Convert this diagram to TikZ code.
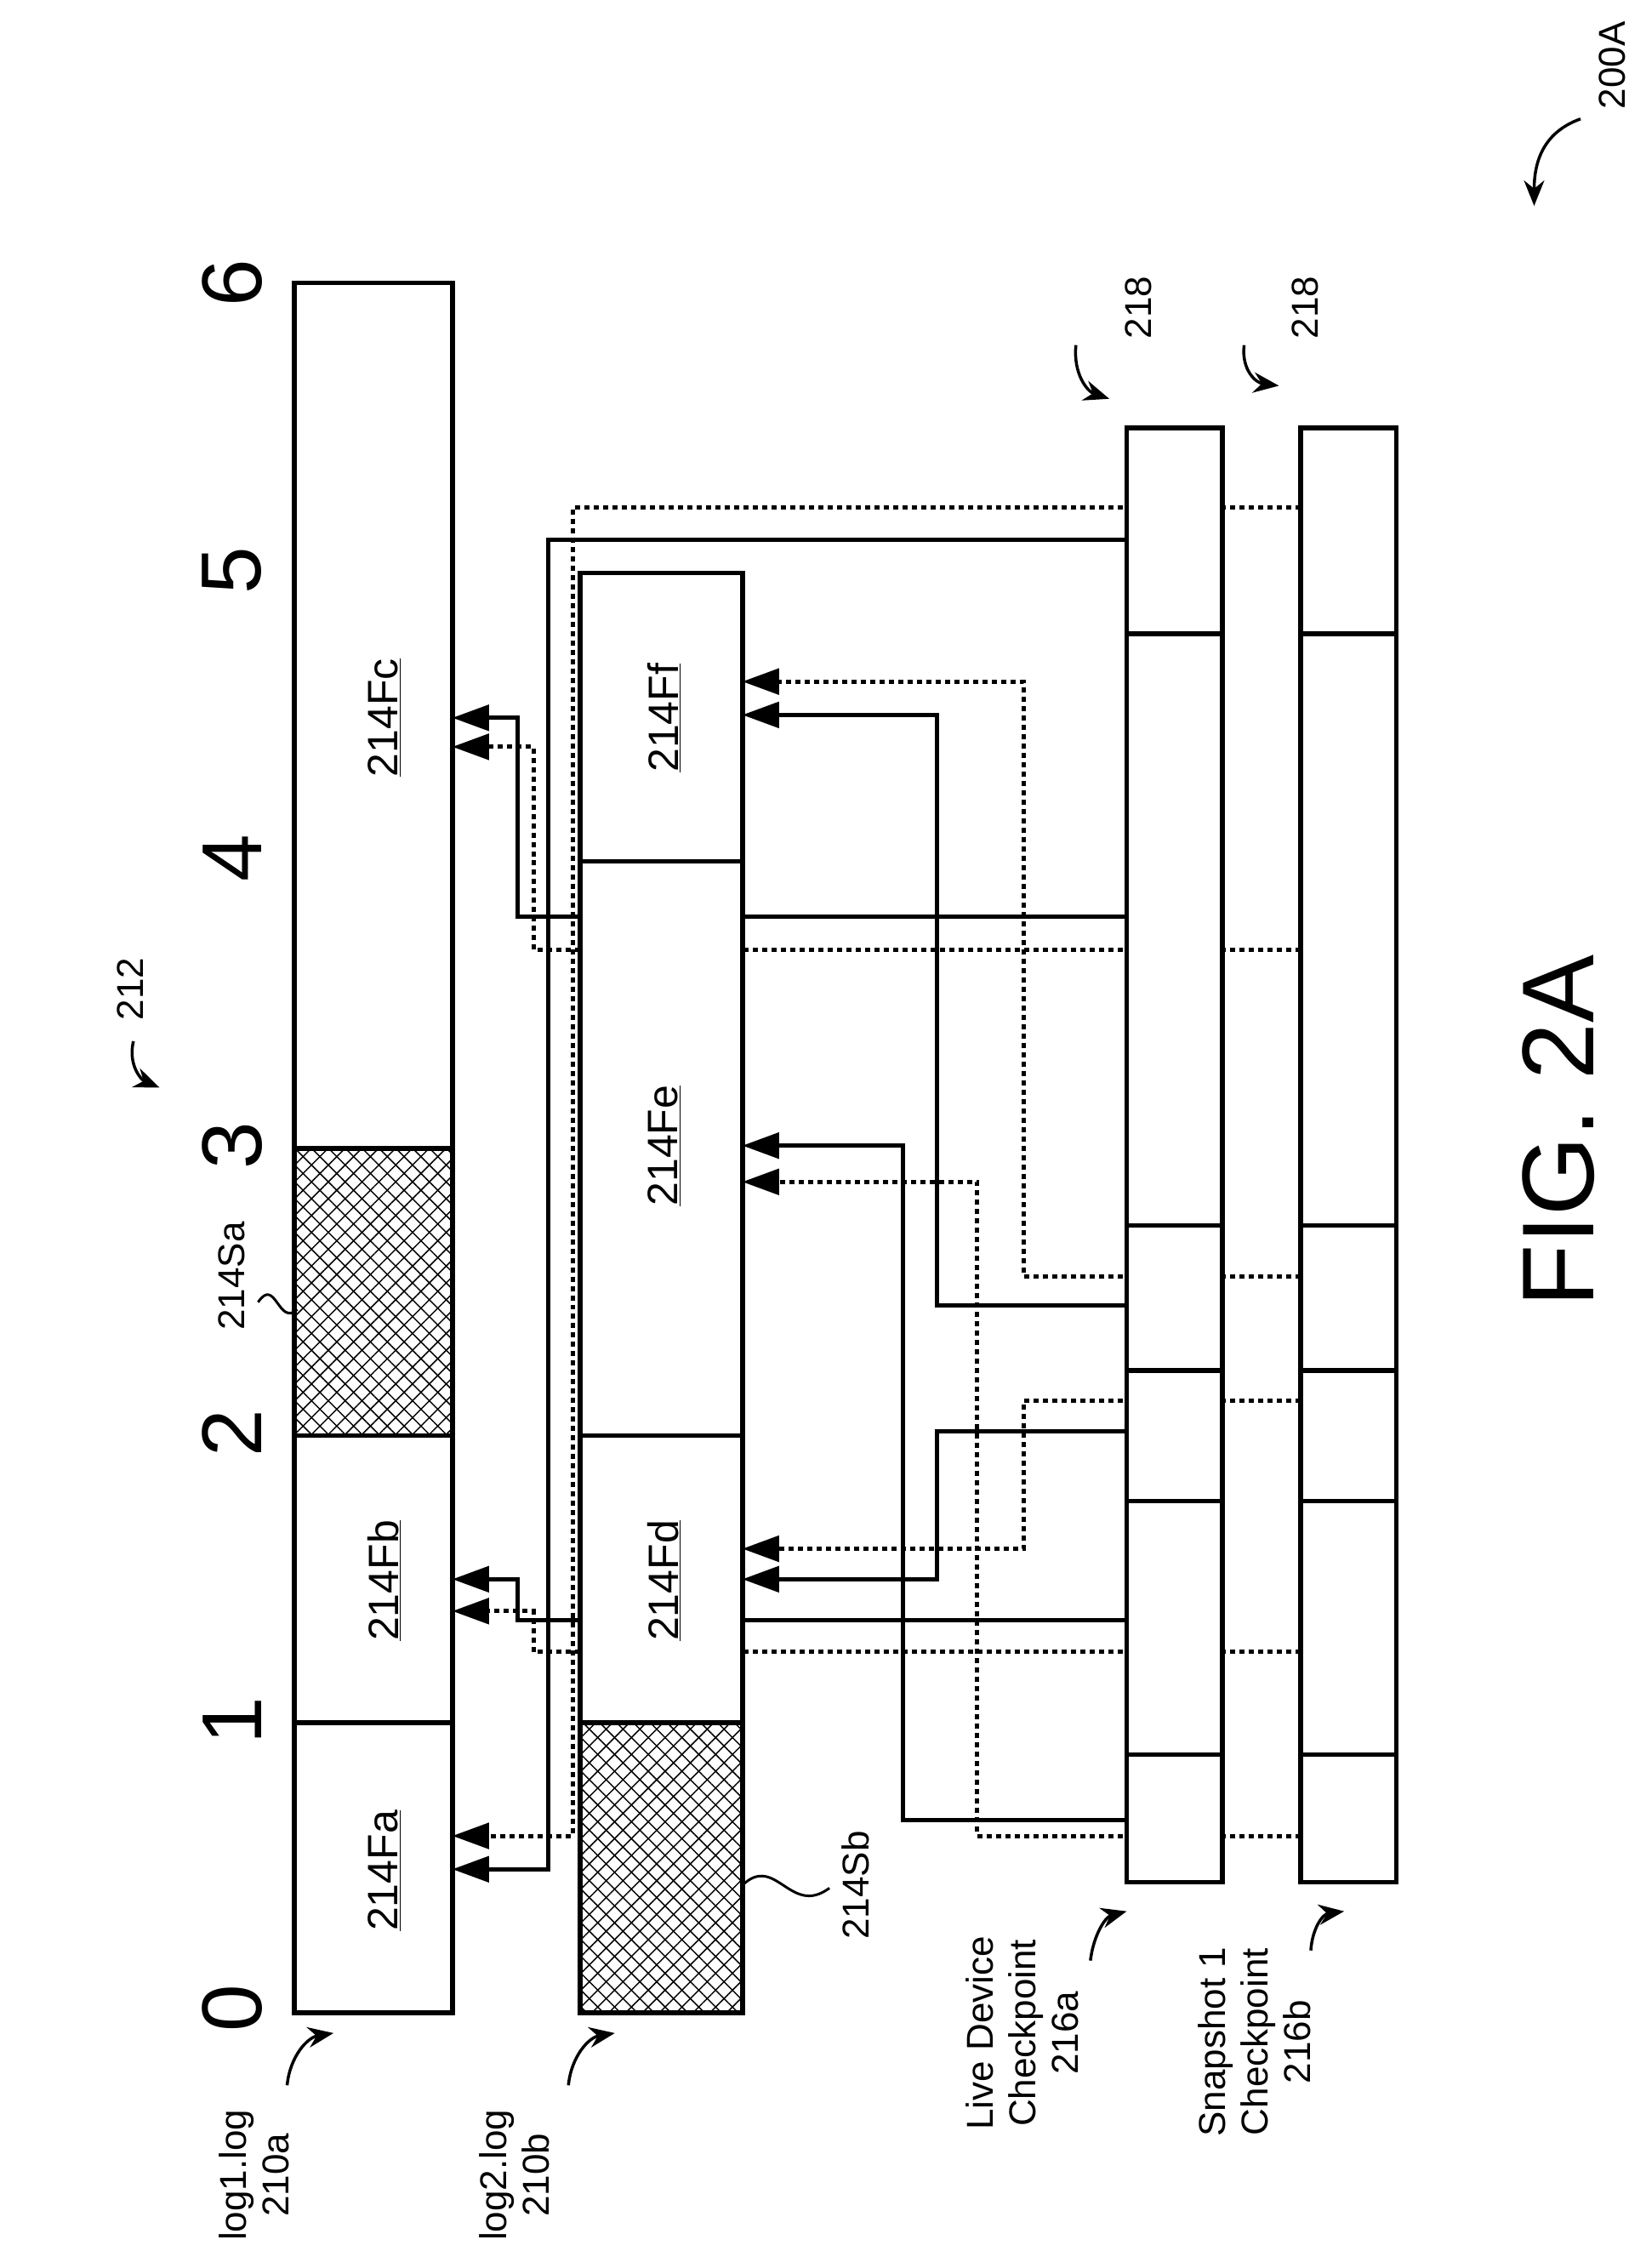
\documentclass[tikz,border=0pt]{standalone}
\usepackage{fontspec}
\setmainfont{Liberation Sans}
\usetikzlibrary{arrows.meta,patterns.meta}

\tikzset{
  bar/.style={draw=black,fill=white,line width=5.5pt},
  cut/.style={line width=5.5pt},
  link/.style={line width=5pt,-{Triangle[length=43pt,width=30pt]}},
  dlink/.style={link,dash pattern=on 6pt off 5pt},
  hatchA/.style={pattern={Lines[angle=45,distance=14pt,line width=1.5pt]}},
  hatchB/.style={pattern={Lines[angle=-45,distance=14pt,line width=1.5pt]}},
  tick/.style={rotate=90,font=\fontsize{100}{100}\selectfont},
  blk/.style={rotate=90,font=\fontsize{50}{52}\selectfont},
  lbl/.style={rotate=90,align=center,font=\fontsize{44}{50}\selectfont},
  lead/.style={line width=3.5pt,-{Stealth[length=30pt,width=24pt]}},
  wave/.style={line width=3pt}
}

\begin{document}
\begin{tikzpicture}[x=1.705pt,y=-1.705pt]
\useasboundingbox (0,0) rectangle (1135,1564);

% axis
\foreach \v in {0,...,6}
  \node[tick] (t\v) at (160,{1385-198.3*\v}) {\v};

% connectors from the checkpoints
\draw[link]  (777,372)  -| (378,1289) -- (312,1289);
\draw[dlink] (897,350)  -| (395,1266) -- (312,1266);
\draw[link]  (777,632)  -| (357,495)  -- (312,495);
\draw[dlink] (897,655)  -| (368,515)  -- (312,515);
\draw[link]  (777,1117) -| (357,1089) -- (312,1089);
\draw[dlink] (897,1139) -| (368,1111) -- (312,1111);
\draw[link]  (777,900)  -| (646,493)  -- (512,493);
\draw[dlink] (897,880)  -| (706,470)  -- (512,470);
\draw[link]  (777,1255) -| (623,790)  -- (512,790);
\draw[dlink] (897,1266) -| (674,815)  -- (512,815);
\draw[link]  (777,987)  -| (646,1089) -- (512,1089);
\draw[dlink] (897,966)  -| (706,1068) -- (512,1068);

% log1
\draw[bar] (203,195) rectangle (312,1388);
\fill[hatchA] (203,792) rectangle (312,990);
\fill[hatchB] (203,792) rectangle (312,990);
\draw[cut] (203,195) rectangle (312,1388);
\foreach \y in {1188,990,792}
  \draw[cut] (203,\y) -- (312,\y);
% log2
\draw[bar] (400,395) rectangle (512,1388);
\fill[hatchA] (400,1188) rectangle (512,1388);
\fill[hatchB] (400,1188) rectangle (512,1388);
\draw[cut] (400,395) rectangle (512,1388);
\foreach \y in {1188,990,594}
  \draw[cut] (400,\y) -- (512,\y);
% checkpoints
\foreach \x in {777,897} {
  \draw[bar] (\x,295) rectangle (\x+66,1298);
  \foreach \y in {437,845,945,1035,1210}
    \draw[cut] (\x,\y) -- (\x+66,\y);
}

% block labels
\node[blk] (fa) at (265,1290) {\underline{214Fa}};
\node[blk] (fb) at (265,1090) {\underline{214Fb}};
\node[blk] (fc) at (265,495)  {\underline{214Fc}};
\node[blk] (fd) at (458,1090) {\underline{214Fd}};
\node[blk] (fe) at (458,790)  {\underline{214Fe}};
\node[blk] (ff) at (458,495)  {\underline{214Ff}};

% reference labels
\node[lbl] (r200) at (1112,45) {200A};
\draw[lead] (1090,82) .. controls (1062,92) and (1058,115) .. (1058,142);
\node[lbl] (r212) at (90,682) {212};
\draw[lead] (92,718) .. controls (88,735) and (98,745) .. (110,750);
\node[lbl] (rSa) at (160,880) {214Sa};
\draw[wave] (178,898) .. controls (190,880) and (192,915) .. (205,903);
\node[lbl] (rSb) at (590,1300) {214Sb};
\draw[wave] (512,1300) .. controls (535,1278) and (545,1322) .. (572,1302);
\node[lbl] (r218a) at (785,212) {218};
\draw[lead] (742,238) .. controls (740,258) and (750,270) .. (765,275);
\node[lbl] (r218b) at (900,212) {218};
\draw[lead] (858,238) .. controls (856,255) and (866,264) .. (882,266);

\node[lbl] (l1) at (175,1500) {log1.log\\210a};
\draw[lead] (198,1438) .. controls (200,1418) and (212,1405) .. (230,1402);
\node[lbl] (l2) at (355,1500) {log2.log\\210b};
\draw[lead] (392,1438) .. controls (394,1418) and (406,1405) .. (424,1402);
\node[lbl] (live) at (705,1402) {Live Device\\Checkpoint\\216a};
\draw[lead] (752,1352) .. controls (754,1335) and (762,1322) .. (777,1318);
\node[lbl] (snap) at (865,1408) {Snapshot 1\\Checkpoint\\216b};
\draw[lead] (904,1345) .. controls (905,1330) and (912,1320) .. (927,1318);

\node[rotate=90,font=\fontsize{120}{120}\selectfont] (fig) at (1075,780) {FIG. 2A};
\end{tikzpicture}
\end{document}
